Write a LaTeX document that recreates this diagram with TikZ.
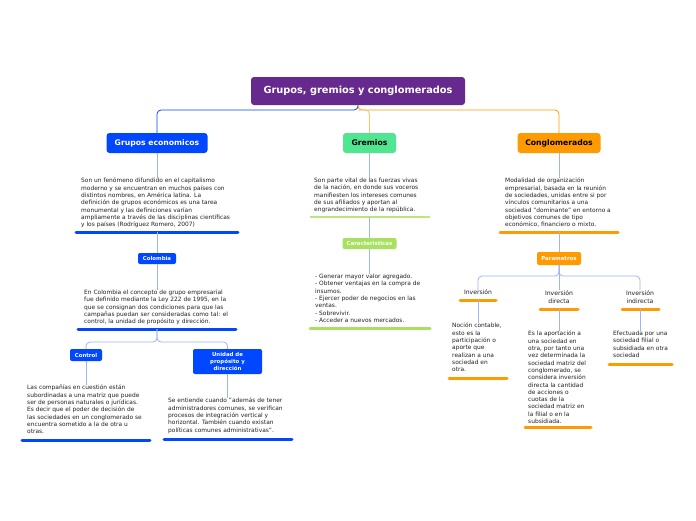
\documentclass[tikz,border=0pt]{standalone}
\usepackage{fontspec}
\setmainfont{DejaVu Sans}
\usetikzlibrary{calc}
\definecolor{mpurple}{HTML}{662A8E}
\definecolor{mblue}{HTML}{0047FF}
\definecolor{lblue}{HTML}{9DB4F8}
\definecolor{mgreen}{HTML}{4FE591}
\definecolor{lgreen}{HTML}{A8E05F}
\definecolor{morange}{HTML}{FF9A00}
\definecolor{lorange}{HTML}{FFC266}
\definecolor{txtgray}{HTML}{222222}
\begin{document}
\begin{tikzpicture}[x=1pt,y=-1pt,
  box/.style={rounded corners=3pt, inner sep=0pt, align=center, font=\bfseries\fontsize{7.7}{8.5}\selectfont},
  sbox/.style={rounded corners=2pt, inner sep=0pt, align=center, font=\bfseries\fontsize{5.4}{6.5}\selectfont, text=white},
  txt/.style={anchor=north west, inner sep=0pt, align=left, font=\fontsize{5.9}{7.3}\selectfont, text=txtgray},
  lbl/.style={inner sep=0pt, align=center, font=\fontsize{6.1}{7.8}\selectfont, text=txtgray},
  ul/.style={line width=3pt, line cap=round},
  con/.style={line width=0.8pt, draw=lblue, rounded corners=4pt}]
\useasboundingbox[fill=white] (0,0) rectangle (696,520);

% main boxes
\node[box, fill=mpurple, text=white, minimum width=214pt, minimum height=28pt, font=\bfseries\fontsize{9.8}{11}\selectfont] (title) at (358,91) {Grupos, gremios y conglomerados};
\node[box, fill=mblue, text=white, minimum width=101pt, minimum height=20pt] (ge) at (157,143) {Grupos economicos};
\node[box, fill=mgreen, text=black, minimum width=53pt, minimum height=20pt] (gr) at (369.5,143) {Gremios};
\node[box, fill=morange, text=black, minimum width=83pt, minimum height=20pt] (co) at (559,143) {Conglomerados};

% top connectors
\coordinate (tb) at (358,110);
\draw[line width=0.8pt, draw=mblue, rounded corners=4pt] (title.south) -- (tb) -| (ge.north);
\draw[line width=0.8pt, draw=morange, rounded corners=4pt] (title.south) -- (tb) -| (co.north);
\draw[line width=0.8pt, draw=lorange, rounded corners=4pt] (tb) -| (gr.north);

% left column
\node[txt] (t1) at (81,178) {Son un fenómeno difundido en el capitalismo\\moderno y se encuentran en muchos países con\\distintos nombres, en América latina. La\\definición de grupos económicos es una tarea\\monumental y las definiciones varían\\ampliamente a través de las disciplinas científicas\\y los países (Rodríguez Romero, 2007)};
\coordinate (u1l) at (76,232); \coordinate (u1r) at (238,232); \coordinate (u1) at (157,232);
\draw[con] (ge.south) -- (ge.south |- t1.north);
\draw[ul, mblue] (u1l) -- (u1r);
\node[sbox, fill=mblue, minimum width=38pt, minimum height=11pt] (col) at (157,258.5) {Colombia};
\draw[con] (u1) -- (col.north);
\node[txt] (t2) at (84,290) {En Colombia el concepto de grupo empresarial\\fue definido mediante la Ley 222 de 1995, en la\\que se consignan dos condiciones para que las\\campañas puedan ser consideradas como tal: el\\control, la unidad de propósito y dirección.};
\draw[con] (col.south) -- (col.south |- t2.north);
\coordinate (u2l) at (78,329); \coordinate (u2r) at (236,329); \coordinate (u2) at (157,329);
\draw[ul, mblue] (u2l) -- (u2r);
\node[sbox, fill=mblue, minimum width=32pt, minimum height=12pt] (ctrl) at (86,355) {Control};
\node[sbox, fill=mblue, minimum width=69pt, minimum height=25pt, font=\bfseries\fontsize{5.4}{6.8}\selectfont] (uni) at (227.5,361.5) {Unidad de\\propósito y\\dirección};
\coordinate (b2) at (157,342);
\draw[con] (u2) -- (b2) -| (ctrl.north);
\draw[con] (u2) -- (b2) -| (uni.north);
\node[txt] (t3) at (27,385) {Las compañías en cuestión están\\subordinadas a una matriz que puede\\ser de personas naturales o jurídicas.\\Es decir que el poder de decisión de\\las sociedades en un conglomerado se\\encuentra sometido a la de otra u\\otras.};
\draw[con] (ctrl.south) -- (ctrl.south |- t3.north);
\coordinate (u3l) at (22,440); \coordinate (u3r) at (150,440);
\draw[ul, mblue] (u3l) -- (u3r);
\node[txt] (t4) at (168,398) {Se entiende cuando "además de tener\\administradores comunes, se verifican\\procesos de integración vertical y\\horizontal. También cuando existan\\políticas comunes administrativas".};
\draw[con] (uni.south) -- (uni.south |- t4.north);
\coordinate (u4l) at (164,439); \coordinate (u4r) at (292,439);
\draw[ul, mblue] (u4l) -- (u4r);

% middle column
\node[txt] (t5) at (314,178) {Son parte vital de las fuerzas vivas\\de la nación, en donde sus voceros\\manifiesten los intereses comunes\\de sus afiliados y aportan al\\engrandecimiento de la república.};
\draw[con] (gr.south) -- (gr.south |- t5.north);
\coordinate (u5l) at (310,217); \coordinate (u5r) at (430,217); \coordinate (u5) at (369.5,217);
\draw[line width=1.2pt, lgreen!80] (u5l) -- (u5r);
\node[sbox, fill=lgreen, minimum width=54pt, minimum height=11pt] (car) at (369.5,243.5) {Caracteristicas};
\draw[con] (u5) -- (car.north);
\node[txt] (t6) at (315,274) {- Generar mayor valor agregado.\\- Obtener ventajas en la compra de\\insumos.\\- Ejercer poder de negocios en las\\ventas.\\- Sobrevivir.\\- Acceder a nuevos mercados.};
\draw[con] (car.south) -- (car.south |- t6.north);
\coordinate (u6l) at (310,328); \coordinate (u6r) at (430,328);
\draw[ul, lgreen] (u6l) -- (u6r);

% right column
\node[txt] (t7) at (505,178) {Modalidad de organización\\empresarial, basada en la reunión\\de sociedades, unidas entre si por\\vínculos comunitarios a una\\sociedad "dominante" en entorno a\\objetivos comunes de tipo\\económico, financiero o mixto.};
\draw[con] (co.south) -- (co.south |- t7.north);
\coordinate (u7l) at (500,232); \coordinate (u7r) at (618,232); \coordinate (u7) at (559,232);
\draw[ul, morange] (u7l) -- (u7r);
\node[sbox, fill=morange, minimum width=44pt, minimum height=13pt] (par) at (559,258.5) {Parametros};
\draw[con] (u7) -- (par.north);

\node[lbl] (i1) at (478,292.5) {Inversión};
\node[lbl] (i2) at (559,297) {Inversión\\directa};
\node[lbl] (i3) at (640,297) {Inversión\\indirecta};
\coordinate (b7) at (559,276);
\draw[con] (par.south) -- (b7) -| (i1.north);
\draw[con] (par.south) -- (i2.north);
\draw[con] (par.south) -- (b7) -| (i3.north);
\coordinate (u8l) at (460,300); \coordinate (u8r) at (496,300); \coordinate (u8) at (478,300);
\draw[ul, morange] (u8l) -- (u8r);
\coordinate (u9l) at (540,309); \coordinate (u9r) at (578,309); \coordinate (u9) at (559,309);
\draw[ul, morange] (u9l) -- (u9r);
\coordinate (u10l) at (622,309); \coordinate (u10r) at (659,309); \coordinate (u10) at (640,309);
\draw[ul, morange] (u10l) -- (u10r);

\node[txt] (t8) at (452,323) {Noción contable,\\esto es la\\participación o\\aporte que\\realizan a una\\sociedad en\\otra.};
\draw[con] (u8) -- (u8 |- t8.north);
\coordinate (u11l) at (449,378); \coordinate (u11r) at (507,378);
\draw[ul, morange] (u11l) -- (u11r);
\node[txt] (t9) at (528,331) {Es la aportación a\\una sociedad en\\otra, por tanto una\\vez determinada la\\sociedad matriz del\\conglomerado, se\\considera inversión\\directa la cantidad\\de acciones o\\cuotas de la\\sociedad matriz en\\la filial o en la\\subsidiada.};
\draw[con] (u9) -- (u9 |- t9.north);
\coordinate (u12l) at (525,427); \coordinate (u12r) at (591,427);
\draw[ul, morange] (u12l) -- (u12r);
\node[txt] (t10) at (613,331) {Efectuada por una\\sociedad filial o\\subsidiada en otra\\sociedad};
\draw[con] (u10) -- (u10 |- t10.north);
\coordinate (u13l) at (609,364); \coordinate (u13r) at (672,364);
\draw[ul, morange] (u13l) -- (u13r);
\end{tikzpicture}
\end{document}
